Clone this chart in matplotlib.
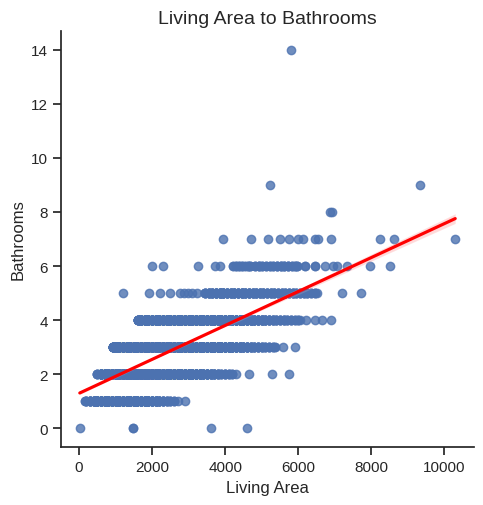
import pandas as pd
import matplotlib
matplotlib.use("Agg")
import matplotlib.pyplot as plt
import seaborn as sns

# living area values seen at each bathroom count, with how many houses sit there
bath0_area = [20, 1470, 1490, 3600, 4600]
bath0_count = [1, 1, 1, 1, 1]

bath1_area = [160, 200, 300, 400, 500, 600, 700, 800, 900, 1000, 1100, 1200, 1300, 1400,
              1500, 1600, 1700, 1800, 1900, 2000, 2100, 2200, 2300, 2400, 2500, 2600, 2700,
              2900]
bath1_count = [2, 4, 8, 12, 18, 22, 26, 30, 34, 28, 27, 26, 25, 24, 24, 21, 19, 17, 15, 13,
               11, 9, 7, 5, 4, 3, 1, 1]

bath2_area = [480, 600, 700, 800, 900, 1000, 1100, 1200, 1300, 1400, 1500, 1600, 1700, 1800,
              1900, 2000, 2100, 2200, 2300, 2400, 2500, 2600, 2700, 2800, 2900, 3000, 3100,
              3200, 3300, 3400, 3500, 3600, 3700, 3800, 3900, 4000, 4100, 4200, 4300, 4650,
              5280, 5750]
bath2_count = [4, 25, 36, 47, 57, 58, 62, 65, 68, 72, 74, 73, 72, 71, 70, 62, 58, 54, 50, 46,
               42, 37, 33, 30, 26, 24, 21, 18, 15, 12, 11, 9, 8, 6, 4, 5, 4, 3, 1, 1, 1, 1]

bath3_area = [930, 1000, 1100, 1200, 1300, 1400, 1500, 1600, 1700, 1800, 1900, 2000, 2100,
              2200, 2300, 2400, 2500, 2600, 2700, 2800, 2900, 3000, 3100, 3200, 3300, 3400,
              3500, 3600, 3700, 3800, 3900, 4000, 4100, 4200, 4300, 4400, 4500, 4600, 4700,
              4800, 4900, 5000, 5100, 5200, 5300, 5370, 5590, 5920]
bath3_count = [15, 25, 32, 39, 46, 53, 50, 52, 53, 54, 55, 60, 59, 58, 57, 56, 55, 53, 51, 50,
               49, 40, 37, 34, 31, 29, 27, 25, 22, 20, 18, 16, 15, 13, 12, 10, 10, 9, 7, 6,
               6, 5, 4, 4, 3, 2, 1, 1]

bath4_area = [1610, 1700, 1800, 1900, 2000, 2100, 2200, 2300, 2400, 2500, 2600, 2700, 2800,
              2900, 3000, 3100, 3200, 3300, 3400, 3500, 3600, 3700, 3800, 3900, 4000, 4100,
              4200, 4300, 4400, 4500, 4600, 4700, 4800, 4900, 5000, 5100, 5200, 5300, 5400,
              5500, 5600, 5700, 5800, 5900, 6000, 6050, 6210, 6460, 6650, 6900]
bath4_count = [10, 17, 23, 30, 25, 27, 29, 31, 33, 31, 32, 33, 33, 33, 33, 33, 32, 32, 32, 28,
               26, 24, 23, 21, 20, 19, 17, 17, 15, 14, 12, 11, 10, 10, 9, 8, 7, 6, 5, 5, 5,
               4, 4, 3, 3, 1, 1, 1, 1, 1]

bath5_area = [1210, 1920, 2210, 2500, 2760, 2870, 2990, 3100, 3220, 3450, 3550, 3650, 3750,
              3850, 3950, 4050, 4150, 4250, 4350, 4450, 4550, 4650, 4750, 4850, 4950, 5050,
              5150, 5250, 5350, 5450, 5550, 5650, 5750, 5850, 5950, 6050, 6150, 6250, 6350,
              6450, 6510, 7200, 7720]
bath5_count = [1, 1, 1, 1, 1, 1, 1, 1, 1, 5, 7, 8, 9, 10, 11, 8, 8, 9, 8, 9, 8, 8, 7, 7, 7,
               7, 6, 6, 6, 5, 5, 5, 5, 5, 4, 4, 4, 4, 3, 3, 1, 1, 1]

bath6_area = [2000, 2300, 3260, 3720, 3860, 4220, 4300, 4380, 4460, 4540, 4620, 4680, 4820,
              4920, 5020, 5120, 5220, 5320, 5420, 5520, 5620, 5720, 5820, 5920, 5960, 6190,
              6460, 6740, 6960, 7060, 7330, 7970, 8520]
bath6_count = [1, 1, 1, 1, 1, 2, 3, 3, 3, 2, 3, 3, 3, 4, 3, 3, 3, 3, 4, 4, 4, 4, 3, 3, 3,
               2, 2, 1, 1, 1, 1, 1, 1]

bath7_area = [3950, 4710, 5180, 5500, 5760, 6000, 6130, 6460, 6550, 6900, 8250, 8630, 10300]
bath8_area = [6860, 6920]
bath9_area = [5230, 9340]
bath14_area = [5800]

groups = [
    (0, bath0_area, bath0_count),
    (1, bath1_area, bath1_count),
    (2, bath2_area, bath2_count),
    (3, bath3_area, bath3_count),
    (4, bath4_area, bath4_count),
    (5, bath5_area, bath5_count),
    (6, bath6_area, bath6_count),
    (7, bath7_area, [1] * len(bath7_area)),
    (8, bath8_area, [1] * len(bath8_area)),
    (9, bath9_area, [1] * len(bath9_area)),
    (14, bath14_area, [1] * len(bath14_area)),
]

area = []
baths = []
for b, xs, cs in groups:
    for x, c in zip(xs, cs):
        area += [x] * c
        baths += [b] * c
df = pd.DataFrame({"sqft_living": area, "bathrooms": baths})

sns.set_theme(style="ticks")
plt.rcParams["font.family"] = ["Liberation Sans", "DejaVu Sans"]

fig = plt.figure(figsize=(4.83, 5.06), dpi=100)
ax = fig.add_axes([0.1263, 0.1146, 0.8551, 0.8222])
sns.regplot(data=df, x="sqft_living", y="bathrooms", ax=ax, seed=0,
            line_kws={"color": "red"})
sns.despine(ax=ax)
ax.set_xlabel("Living Area")
ax.set_ylabel("Bathrooms")
ax.set_title("Living Area to Bathrooms", fontsize=14)

fig.savefig("out.png", dpi=100)
